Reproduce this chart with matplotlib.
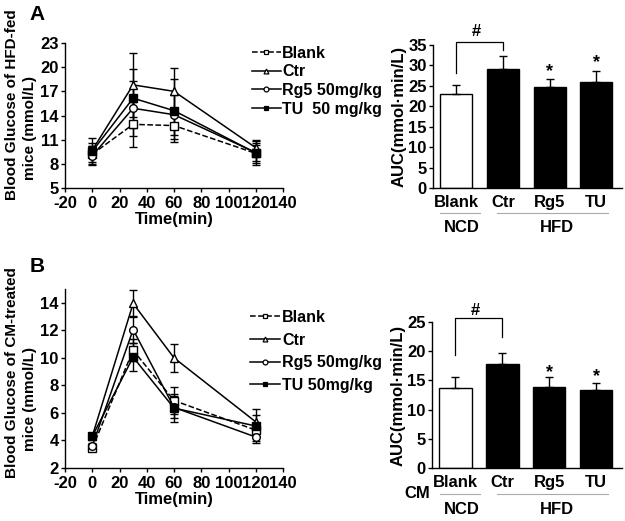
import matplotlib
matplotlib.use('Agg')
import matplotlib.pyplot as plt
from matplotlib.lines import Line2D

plt.rcParams['font.family'] = ['Liberation Sans', 'DejaVu Sans']
plt.rcParams['font.weight'] = 'bold'
plt.rcParams['axes.labelweight'] = 'bold'
plt.rcParams['font.size'] = 12
plt.rcParams['axes.linewidth'] = 1.0
plt.rcParams['axes.unicode_minus'] = False

W, H = 625, 521

time = [0, 30, 60, 120]
groups = ['Blank', 'Ctr', 'Rg5', 'TU']

# panel A - HFD-fed mice, OGTT
a_blank = [9.2, 12.9, 12.75, 9.3]
a_blank_err = [1.0, 2.8, 1.7, 1.5]
a_ctr = [9.7, 17.8, 17.0, 10.0]
a_ctr_err = [0.9, 4.0, 2.9, 1.0]
a_rg5 = [9.0, 14.9, 14.1, 9.4]
a_rg5_err = [1.2, 3.4, 2.5, 1.0]
a_tu = [9.55, 16.15, 14.6, 9.35]
a_tu_err = [1.6, 3.65, 3.9, 1.2]
a_auc = [22.9, 29.1, 24.8, 26.0]
a_auc_err = [2.3, 3.2, 1.9, 2.7]

# panel B - CM-treated mice
b_blank = [3.45, 10.55, 6.9, 4.75]
b_blank_err = [0.2, 0.8, 1.0, 0.5]
b_ctr = [4.3, 13.95, 10.0, 5.35]
b_ctr_err = [0.2, 1.0, 1.0, 0.5]
b_rg5 = [3.6, 12.05, 6.4, 4.25]
b_rg5_err = [0.2, 1.0, 0.8, 0.3]
b_tu = [4.3, 10.05, 6.35, 5.05]
b_tu_err = [0.2, 1.0, 1.0, 1.2]
b_auc = [13.75, 17.8, 13.9, 13.35]
b_auc_err = [1.75, 1.9, 1.6, 1.25]

fig = plt.figure(figsize=(W / 100, H / 100), dpi=100)


def px_axes(left, top, right, bottom):
    # pixel box -> figure fraction axes
    return fig.add_axes([left / W, 1 - bottom / H, (right - left) / W, (bottom - top) / H])


def fx(x):
    return x / W


def fy(y):
    return 1 - y / H


def style(ax):
    for s in ['top', 'right']:
        ax.spines[s].set_visible(False)
    ax.tick_params(direction='out', length=3, width=1, pad=1.5)


def line_panel(ax, series, labels, ylim, yticks, leg_pos, leg_space, hlen):
    styles = [('--', 's', 'white'), ('-', '^', 'white'), ('-', 'o', 'white'), ('-', 's', 'black')]
    handles = []
    for (vals, errs), (ls, mk, fc), lab in zip(series, styles, labels):
        ax.errorbar(time, vals, yerr=errs, color='black', ls=ls, lw=1.1,
                    marker=mk, ms=5.5, mfc=fc, mec='black', mew=1.0,
                    capsize=3, elinewidth=1.0, capthick=1.0)
        handles.append(Line2D([], [], color='black', ls=ls, lw=1.1, marker=mk, ms=3.5,
                              mfc=fc, mec='black', mew=0.9))
    ax.set_xlim(-20, 140)
    ax.set_xticks(range(-20, 141, 20))
    ax.set_ylim(*ylim)
    ax.set_yticks(yticks)
    ax.set_xlabel('Time(min)', labelpad=0.5)
    style(ax)
    ax.tick_params(axis='x', pad=3)
    ax.legend(handles, labels, loc='upper left', bbox_to_anchor=leg_pos,
              bbox_transform=fig.transFigure, frameon=False, borderpad=0,
              handlelength=hlen, handletextpad=0.1, labelspacing=leg_space, fontsize=11.5)


def bar_panel(ax, vals, errs, ylim, yticks, bracket, hash_y, stars):
    x = range(len(groups))
    colors = ['white', 'black', 'black', 'black']
    ax.bar(x, vals, width=0.69, color=colors, edgecolor='black', linewidth=1.0,
           yerr=[[0] * len(errs), errs], capsize=3,
           error_kw=dict(elinewidth=1.0, capthick=1.0, ecolor='black'))
    ax.set_xlim(-0.5, 3.55)
    ax.set_ylim(*ylim)
    ax.set_yticks(yticks)
    ax.set_xticks(list(x))
    ax.set_xticklabels(groups)
    style(ax)
    ax.tick_params(axis='x', length=0, pad=5)
    # significance bracket Blank vs Ctr
    lo_left, top, lo_right = bracket
    ax.plot([0, 0, 1, 1], [lo_left, top, top, lo_right], color='black', lw=0.9, clip_on=False)
    ax.text(0.43, hash_y, '#', ha='center', va='center', fontsize=12)
    for xi, yi in stars:
        ax.annotate('*', (xi, yi), xytext=(0, -7), textcoords='offset points',
                    ha='center', va='baseline', fontsize=13, annotation_clip=False)


# ---------------- panel A ----------------
axA = px_axes(65, 43, 283, 188)
line_panel(axA,
           [(a_blank, a_blank_err), (a_ctr, a_ctr_err), (a_rg5, a_rg5_err), (a_tu, a_tu_err)],
           ['Blank', 'Ctr', 'Rg5 50mg/kg', 'TU  50 mg/kg'],
           (5, 23), range(5, 24, 3), (fx(244), fy(38)), 0.22, 1.8)
fig.text(fx(12), fy(105), 'Blood Glucose of HFD-fed', rotation=90, ha='center', va='center', fontsize=11)
fig.text(fx(30), fy(128), 'mice (mmol/L)', rotation=90, ha='center', va='center', fontsize=11)
fig.text(fx(37), fy(15), 'A', fontsize=15, ha='center', va='center')

axA2 = px_axes(433, 45, 622, 188)
bar_panel(axA2, a_auc, a_auc_err, (0, 35), range(0, 36, 5),
          (28.1, 35.7, 33.8), 38.3, [(2, 29.7), (3, 32.0)])
axA2.set_ylabel('AUC(mmol·min/L)', fontsize=12, labelpad=1)

# ---------------- panel B ----------------
axB = px_axes(65, 289, 283, 468)
line_panel(axB,
           [(b_blank, b_blank_err), (b_ctr, b_ctr_err), (b_rg5, b_rg5_err), (b_tu, b_tu_err)],
           ['Blank', 'Ctr', 'Rg5 50mg/kg', 'TU 50mg/kg'],
           (2, 15), range(2, 15, 2), (fx(242), fy(302)), 0.48, 1.9)
fig.text(fx(12), fy(373), 'Blood Glucose of CM-treated', rotation=90, ha='center', va='center', fontsize=11)
fig.text(fx(30), fy(399), 'mice (mmol/L)', rotation=90, ha='center', va='center', fontsize=11)
fig.text(fx(37), fy(267), 'B', fontsize=15, ha='center', va='center')

axB2 = px_axes(432, 322, 622, 468)
bar_panel(axB2, b_auc, b_auc_err, (0, 25), range(0, 26, 5),
          (19.3, 25.6, 22.4), 27.0, [(2, 17.3), (3, 16.6)])
axB2.set_ylabel('AUC(mmol·min/L)', fontsize=12, labelpad=1)
fig.text(fx(417), fy(493), 'CM', ha='center', va='center')

# diet groups under the bar charts
for line_y, lab_y in [(213, 228), (494, 510)]:
    fig.add_artist(Line2D([fx(440), fx(480)], [fy(line_y)] * 2, color='#aaaaaa', lw=0.8))
    fig.add_artist(Line2D([fx(497), fx(608)], [fy(line_y)] * 2, color='#aaaaaa', lw=0.8))
    fig.text(fx(462), fy(lab_y), 'NCD', ha='center', va='center')
    fig.text(fx(557), fy(lab_y), 'HFD', ha='center', va='center')

fig.savefig('out.png', dpi=100)
